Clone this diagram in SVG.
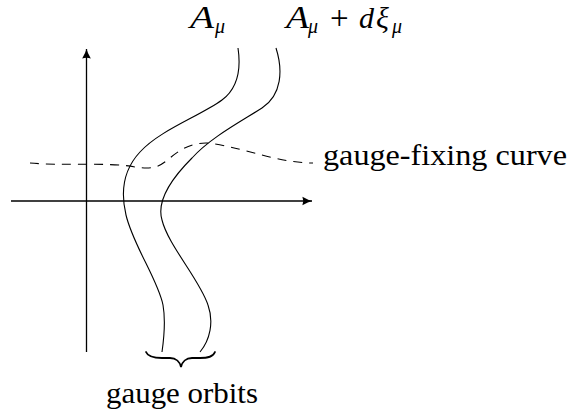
<svg xmlns="http://www.w3.org/2000/svg" width="571" height="414" viewBox="0 0 571 414">
<defs>
<marker id="arr" markerWidth="12" markerHeight="12" refX="0" refY="0" viewBox="-9 -5 10 10" markerUnits="userSpaceOnUse" orient="auto" overflow="visible">
<path d="M-8,-3.6 Q-3,-0.8 0,0 Q-3,0.8 -8,3.6 Q-6.5,0 -8,-3.6 Z" fill="#000"/>
</marker>
<style>
.ax{stroke:#000;stroke-width:1.3;fill:none}
.orb{stroke:#000;stroke-width:1.1;fill:none}
.gf{stroke:#000;stroke-width:1.1;fill:none;stroke-dasharray:9 7}
.br{stroke:#000;stroke-width:1.8;fill:none;stroke-linecap:round}
text{fill:#000;font-family:'Liberation Serif',serif}
.it{font-style:italic}
</style>
</defs>
<g id="axes">
<line class="ax" x1="86.5" y1="352" x2="86.5" y2="49" marker-end="url(#arr)"/>
<line class="ax" x1="11" y1="201" x2="312" y2="201" marker-end="url(#arr)"/>
</g>
<g id="connectors">
<path id="orbit1" class="orb" d="M238,48 C241,68 238,88 222,100 C200,116 160,130 140,152 C125,168 120,190 126,215 C133,245 158,280 163,305 C166,322 164,338 162,352"/>
<path id="orbit2" class="orb" d="M276,48 C283,70 282,95 262,108 C240,122 210,138 192,158 C172,178 156,200 162,220 C168,245 200,280 208,305 C214,322 210,340 200,352"/>
<path id="gaugefix" class="gf" d="M30,163 C60,166 110,162 135,167 C155,170 160,166 170,158 C185,145 200,141 215,144 C250,150 280,163 313,163"/>
<path id="brace" class="br" d="M146,352 C148,357 154,358 162,358 L170,358 C176,358 180,362 181,367 C182,362 186,358 192,358 L200,358 C208,358 213,357 215,352"/>
</g>
<g id="label-A">
<text class="it" x="190" y="28" font-size="31" textLength="24" lengthAdjust="spacingAndGlyphs">A</text>
<text class="it" x="215" y="33" font-size="20">μ</text>
</g>
<g id="label-Adxi">
<text class="it" x="286" y="28" font-size="31" textLength="23" lengthAdjust="spacingAndGlyphs">A</text>
<text class="it" x="308" y="33" font-size="20">μ</text>
<text x="330" y="29" font-size="33">+</text>
<text class="it" x="359" y="28" font-size="30">d</text>
<text class="it" x="376" y="28" font-size="30">ξ</text>
<text class="it" x="392" y="33" font-size="20">μ</text>
</g>
<g id="label-gf">
<text x="323" y="165" font-size="30" textLength="244" lengthAdjust="spacingAndGlyphs">gauge-fixing curve</text>
</g>
<g id="label-orbits">
<text x="106" y="403" font-size="30" textLength="152" lengthAdjust="spacingAndGlyphs">gauge orbits</text>
</g>
</svg>
